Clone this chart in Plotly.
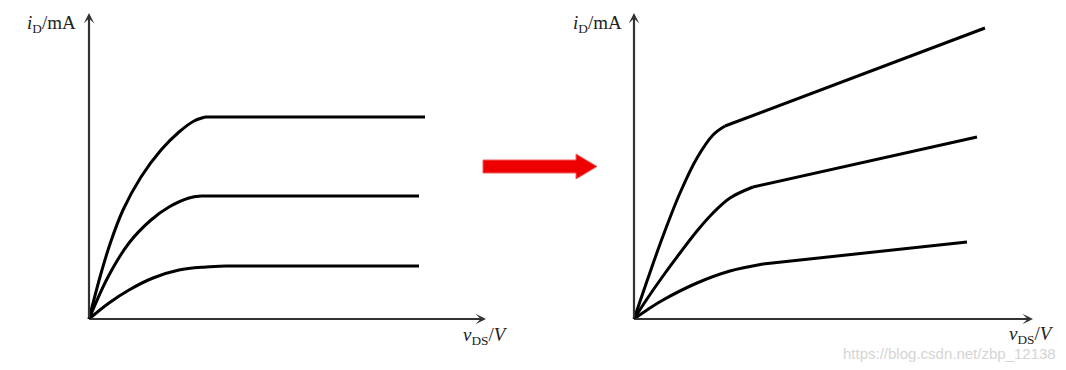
import plotly.graph_objects as go

W, H = 1066, 370

# ---- data (v_DS, i_D) in arbitrary units ----
# left panel: ideal saturation (no channel-length modulation)
left_v_top = [0, 1.1, 2.1, 3.4, 5.2, 7.2, 9.0, 10.5, 11.6, 33.6]
left_i_top = [0, 4.2, 7.5, 10.9, 14.2, 16.9, 18.7, 19.8, 20.2, 20.2]
left_v_mid = [0, 1.9, 4.0, 6.2, 8.0, 10.0, 11.2, 33.0]
left_i_mid = [0, 4.2, 7.6, 9.9, 11.2, 12.1, 12.3, 12.3]
left_v_low = [0, 2.0, 4.0, 6.4, 9.0, 11.7, 13.7, 33.0]
left_i_low = [0, 1.6, 2.9, 4.1, 4.9, 5.2, 5.3, 5.3]

# right panel: with channel-length modulation (sloped saturation)
right_v_top = [0, 1.3, 2.9, 4.6, 6.3, 7.9, 9.1, 35.1]
right_i_top = [0, 3.8, 8.3, 12.6, 16.1, 18.4, 19.3, 29.1]
right_v_mid = [0, 1.3, 2.9, 4.6, 6.3, 7.9, 9.6, 11.9, 34.3]
right_i_mid = [0, 2.0, 4.3, 6.6, 8.8, 10.6, 12.1, 13.2, 18.2]
right_v_low = [0, 1.3, 2.9, 6.3, 9.6, 12.9, 33.3]
right_i_low = [0, 0.9, 1.9, 3.6, 4.8, 5.5, 7.7]

# index of the saturation knee in each curve (curved part before, straight after)
knee_left = [8, 6, 6]
knee_right = [6, 7, 5]

y_label = "<i>i</i><sub>D</sub>/mA"
x_label = "<i>v</i><sub>DS</sub>/<i>V</i>"
watermark = "https://blog.csdn.net/zbp_12138"

# ---- layout geometry (pixels) ----
L_ox, R_ox, oy = 89, 634, 319
L_tip, R_tip, y_tip = 486, 1033, 13
PAD = 10  # px of negative range so curves aren't clipped at origin
X_MIN = -PAD / 10
L_XMAX = (L_tip - L_ox) / 10
R_XMAX = (R_tip - R_ox) / 10
Y_MAX = (oy - y_tip) / 10
Y_MIN = -PAD / 10

fig = go.Figure()
curve_line = dict(color="black", width=3, shape="spline", smoothing=1.0)
tail_line = dict(color="black", width=3, shape="linear")


def add_curve(xs, ys, k, xa, ya):
    fig.add_trace(go.Scatter(x=xs[:k + 1], y=ys[:k + 1], mode="lines", line=curve_line,
                             xaxis=xa, yaxis=ya, showlegend=False, hoverinfo="skip"))
    fig.add_trace(go.Scatter(x=xs[k:], y=ys[k:], mode="lines", line=tail_line,
                             xaxis=xa, yaxis=ya, showlegend=False, hoverinfo="skip"))


for (xs, ys), k in zip([(left_v_top, left_i_top), (left_v_mid, left_i_mid),
                        (left_v_low, left_i_low)], knee_left):
    add_curve(xs, ys, k, "x", "y")
for (xs, ys), k in zip([(right_v_top, right_i_top), (right_v_mid, right_i_mid),
                        (right_v_low, right_i_low)], knee_right):
    add_curve(xs, ys, k, "x2", "y2")

ax_common = dict(showgrid=False, zeroline=False, showticklabels=False, ticks="",
                 showline=False, fixedrange=True)
fig.update_layout(
    width=W, height=H,
    margin=dict(l=0, r=0, t=0, b=0),
    paper_bgcolor="white", plot_bgcolor="rgba(0,0,0,0)",
    xaxis=dict(domain=[(L_ox - PAD) / W, L_tip / W], range=[X_MIN, L_XMAX], **ax_common),
    yaxis=dict(domain=[(H - oy - PAD) / H, (H - y_tip) / H], range=[Y_MIN, Y_MAX], **ax_common),
    xaxis2=dict(domain=[(R_ox - PAD) / W, R_tip / W], range=[X_MIN, R_XMAX], anchor="y2", **ax_common),
    yaxis2=dict(domain=[(H - oy - PAD) / H, (H - y_tip) / H], range=[Y_MIN, Y_MAX], anchor="x2", **ax_common),
)

axis_col = "#333333"
annotations = []
for xr, yr, xmax in [("x", "y", L_XMAX), ("x2", "y2", R_XMAX)]:
    annotations.append(dict(x=xmax, y=0, ax=0, ay=0, xref=xr, yref=yr, axref=xr, ayref=yr,
                            showarrow=True, arrowhead=3, arrowsize=0.8, arrowwidth=2.2,
                            arrowcolor=axis_col, text=""))
    annotations.append(dict(x=0, y=Y_MAX, ax=0, ay=0, xref=xr, yref=yr, axref=xr, ayref=yr,
                            showarrow=True, arrowhead=3, arrowsize=0.8, arrowwidth=2.2,
                            arrowcolor=axis_col, text=""))

lab_font = dict(family="Liberation Serif, Times New Roman, serif", size=19, color="#222222")
annotations += [
    dict(text=y_label, x=78 / W, y=1 - 24 / H, xref="paper", yref="paper",
         xanchor="right", yanchor="middle", showarrow=False, font=lab_font),
    dict(text=y_label, x=624 / W, y=1 - 24 / H, xref="paper", yref="paper",
         xanchor="right", yanchor="middle", showarrow=False, font=lab_font),
    dict(text=x_label, x=461 / W, y=1 - 336 / H, xref="paper", yref="paper",
         xanchor="left", yanchor="middle", showarrow=False, font=lab_font),
    dict(text=x_label, x=1007 / W, y=1 - 335 / H, xref="paper", yref="paper",
         xanchor="left", yanchor="middle", showarrow=False, font=lab_font),
    dict(text=watermark, x=1058 / W, y=1 - 353 / H, xref="paper", yref="paper",
         xanchor="right", yanchor="middle", showarrow=False,
         font=dict(family="Liberation Sans, Arial, sans-serif", size=15, color="#d4d4d4")),
]
fig.update_layout(annotations=annotations)

# red block arrow between the panels (decoration)
def P(x, y):
    return f"{x / W:.5f},{1 - y / H:.5f}"

arrow_path = ("M " + P(483, 160) + " L " + P(576, 160) + " L " + P(576, 154) + " L " +
              P(597, 166.5) + " L " + P(576, 179) + " L " + P(576, 173) + " L " +
              P(483, 173) + " Z")
fig.add_shape(type="path", path=arrow_path, xref="paper", yref="paper",
              fillcolor="#ee0000", line=dict(color="#f26060", width=1))

fig.write_html("out.html")
